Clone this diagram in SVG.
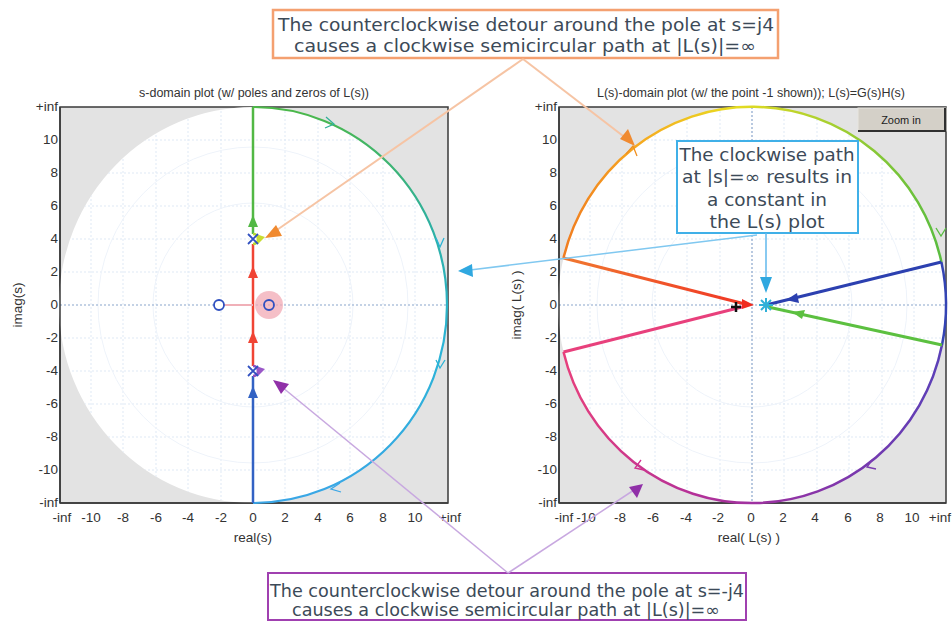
<svg xmlns="http://www.w3.org/2000/svg" width="952" height="622" viewBox="0 0 952 622">
<style>
.tk{font-family:"Liberation Sans",Arial,sans-serif;font-size:13.5px;fill:#333}
.ttl{font-family:"Liberation Sans",Arial,sans-serif;font-size:12.5px;fill:#333}
.co{font-family:"DejaVu Sans","Noto Sans",sans-serif;font-size:17px;fill:#3c4a58}
.frame{fill:#e3e3e3;stroke:#3a3a3a;stroke-width:1.5}
.grid{stroke:#dfe9f5;stroke-width:1;stroke-dasharray:2 2;fill:none}
.axis{stroke:#8aa6cc;stroke-width:1.2;stroke-dasharray:2 2;fill:none}
.chev{fill:none;stroke-width:1.3}
</style>
<defs>
<linearGradient id="gL" gradientUnits="userSpaceOnUse" x1="0" y1="107" x2="0" y2="503">
<stop offset="0" stop-color="#4cb848"/><stop offset="0.3" stop-color="#2eb0a2"/><stop offset="0.6" stop-color="#2ab4d6"/><stop offset="1" stop-color="#3aa6e6"/>
</linearGradient>
<linearGradient id="gU" gradientUnits="userSpaceOnUse" x1="560" y1="0" x2="944" y2="0">
<stop offset="0" stop-color="#f07a20"/><stop offset="0.2" stop-color="#f6a820"/><stop offset="0.45" stop-color="#e8dc20"/><stop offset="0.7" stop-color="#a8d030"/><stop offset="1" stop-color="#58bc40"/>
</linearGradient>
<linearGradient id="gD" gradientUnits="userSpaceOnUse" x1="944" y1="0" x2="560" y2="0">
<stop offset="0" stop-color="#5a40b8"/><stop offset="0.35" stop-color="#8a34a8"/><stop offset="0.65" stop-color="#b43098"/><stop offset="1" stop-color="#e8407c"/>
</linearGradient>
<linearGradient id="gR" gradientUnits="userSpaceOnUse" x1="563" y1="0" x2="750" y2="0">
<stop offset="0" stop-color="#f07830"/><stop offset="1" stop-color="#f03424"/>
</linearGradient>
<clipPath id="cL"><ellipse cx="253" cy="305" rx="194" ry="198"/></clipPath>
<clipPath id="cR"><ellipse cx="752" cy="305" rx="194" ry="198"/></clipPath>
</defs>

<!-- Left plot -->
<g id="left-plot">
<text class="ttl" x="254" y="97" text-anchor="middle">s-domain plot (w/ poles and zeros of L(s))</text>
<rect class="frame" x="60" y="107" width="388" height="396"/>
<ellipse cx="253" cy="305" rx="194" ry="198" fill="#fff"/>
<g clip-path="url(#cL)">
<path class="grid" d="M91,107V503M123,107V503M156,107V503M188,107V503M221,107V503M285,107V503M318,107V503M350,107V503M383,107V503M415,107V503M60,140H448M60,173H448M60,206H448M60,239H448M60,272H448M60,338H448M60,371H448M60,404H448M60,437H448M60,470H448"/>
<ellipse cx="253" cy="305" rx="155" ry="158" fill="none" stroke="#eef3fa" stroke-width="1"/>
<ellipse cx="253" cy="305" rx="100" ry="102" fill="none" stroke="#eef3fa" stroke-width="1"/>
</g>
<path class="axis" d="M60,305H448"/>
<path d="M60,503H448M60,107V503" fill="none" stroke="#3a3a3a" stroke-width="1.5"/>
<g class="tk" text-anchor="end">
<text x="58" y="111">+inf</text><text x="58" y="144">10</text><text x="58" y="177">8</text><text x="58" y="210">6</text><text x="58" y="243">4</text><text x="58" y="276">2</text><text x="58" y="309">0</text><text x="58" y="342">-2</text><text x="58" y="375">-4</text><text x="58" y="408">-6</text><text x="58" y="441">-8</text><text x="58" y="474">-10</text><text x="58" y="507">-inf</text>
</g>
<g class="tk" text-anchor="middle">
<text x="62" y="522">-inf</text><text x="91" y="522">-10</text><text x="123" y="522">-8</text><text x="156" y="522">-6</text><text x="188" y="522">-4</text><text x="221" y="522">-2</text><text x="253" y="522">0</text><text x="285" y="522">2</text><text x="318" y="522">4</text><text x="350" y="522">6</text><text x="383" y="522">8</text><text x="415" y="522">10</text><text x="450" y="522">+inf</text>
</g>
<text class="tk" x="253" y="542" text-anchor="middle">real(s)</text>
<text class="tk" transform="translate(22,305) rotate(-90)" text-anchor="middle">imag(s)</text>
</g>

<g id="s-contour">
<path d="M253,107 A194,198 0 0 1 253,503" fill="none" stroke="url(#gL)" stroke-width="2.2"/>
<path d="M253,107V234" stroke="#52b844" stroke-width="2.5"/>
<path d="M253,244V366" stroke="#f04434" stroke-width="2.5"/>
<path d="M253,376V503" stroke="#3262c4" stroke-width="2.5"/>
<path d="M253,244 A5,5 0 0 0 253,234" fill="none" stroke="#b8d830" stroke-width="2.5"/>
<path d="M253,376 A5,5 0 0 0 253,366" fill="none" stroke="#9050c0" stroke-width="2.5"/>
<polygon points="256,234 265,237 258,244" fill="#c8dc30"/>
<polygon points="256,366 265,369 258,376" fill="#9a58c8"/>
<polygon points="253,215 248,227 258,227" fill="#52b844"/>
<polygon points="253,266 248,278 258,278" fill="#f04434"/>
<polygon points="253,331 248,343 258,343" fill="#f04434"/>
<polygon points="253,386 248,398 258,398" fill="#3262c4"/>
<path class="chev" d="M326,117 L334,124 L325,128" stroke="#30b098"/>
<path class="chev" d="M436,238 L440,247 L444,238" stroke="#2ab4d6"/>
<path class="chev" d="M436,360 L440,368 L445,360" stroke="#2ab4d6"/>
<path class="chev" d="M340,483 L331,489 L341,492" stroke="#3aa6e6"/>
</g>

<g id="poles-zeros">
<path d="M224,305H253" stroke="#f0b0b8" stroke-width="2"/>
<circle cx="269" cy="305" r="14" fill="#f2aab4" opacity="0.75"/>
<circle cx="219" cy="305" r="5" fill="#fff" stroke="#3050c0" stroke-width="1.8"/>
<circle cx="269" cy="305" r="5" fill="none" stroke="#3050c0" stroke-width="1.8"/>
<path d="M248,234L258,244M258,234L248,244M248,366L258,376M258,366L248,376" stroke="#3050c0" stroke-width="1.8"/>
</g>

<!-- Right plot -->
<g id="right-plot">
<text class="ttl" x="751" y="97" text-anchor="middle">L(s)-domain plot (w/ the point -1 shown)); L(s)=G(s)H(s)</text>
<rect class="frame" x="559" y="107" width="387" height="396"/>
<ellipse cx="752" cy="305" rx="194" ry="198" fill="#fff"/>
<g clip-path="url(#cR)">
<path class="grid" d="M590,107V503M622,107V503M655,107V503M687,107V503M720,107V503M784,107V503M817,107V503M849,107V503M882,107V503M914,107V503M559,140H946M559,173H946M559,206H946M559,239H946M559,272H946M559,338H946M559,371H946M559,404H946M559,437H946M559,470H946"/>
<ellipse cx="752" cy="305" rx="155" ry="158" fill="none" stroke="#eef3fa" stroke-width="1"/>
<ellipse cx="752" cy="305" rx="100" ry="102" fill="none" stroke="#eef3fa" stroke-width="1"/>
</g>
<path class="axis" d="M559,305H946M752,107V503" stroke="#a8c6e6"/>
<path d="M559,503H946M559,107V503" fill="none" stroke="#3a3a3a" stroke-width="1.5"/>
<g class="tk" text-anchor="end">
<text x="557" y="111">+inf</text><text x="557" y="144">10</text><text x="557" y="177">8</text><text x="557" y="210">6</text><text x="557" y="243">4</text><text x="557" y="276">2</text><text x="557" y="309">0</text><text x="557" y="342">-2</text><text x="557" y="375">-4</text><text x="557" y="408">-6</text><text x="557" y="441">-8</text><text x="557" y="474">-10</text><text x="557" y="507">-inf</text>
</g>
<g class="tk" text-anchor="middle">
<text x="564" y="522">-inf</text><text x="586" y="522">-10</text><text x="620" y="522">-8</text><text x="653" y="522">-6</text><text x="686" y="522">-4</text><text x="718" y="522">-2</text><text x="751" y="522">0</text><text x="783" y="522">2</text><text x="815" y="522">4</text><text x="848" y="522">6</text><text x="880" y="522">8</text><text x="912" y="522">10</text>
</g>
<text class="tk" x="951" y="522" text-anchor="end">+inf</text>
<text class="tk" x="749" y="542" text-anchor="middle">real( L(s) )</text>
<text class="tk" transform="translate(521,305) rotate(-90)" text-anchor="middle">imag( L(s) )</text>
</g>

<g id="zoom-button">
<rect x="858" y="108" width="88" height="23" fill="#d4d0c8" stroke="#e8e6e0" stroke-width="1"/>
<path d="M945,108V131H858" fill="none" stroke="#303030" stroke-width="2"/>
<text x="901" y="124" text-anchor="middle" font-family="Liberation Sans, Arial, sans-serif" font-size="11" fill="#222">Zoom in</text>
</g>

<g id="L-contour">
<path d="M563.5,258 A194,198 0 0 1 941.4,262" fill="none" stroke="url(#gU)" stroke-width="2.5"/>
<path d="M941.4,262 A194,198 0 0 1 942,345" fill="none" stroke="#3444b4" stroke-width="2.5"/>
<path d="M942,345 A194,198 0 0 1 563.5,352" fill="none" stroke="url(#gD)" stroke-width="2.5"/>
<path d="M563.5,258 L745,304" stroke="url(#gR)" stroke-width="3"/>
<polygon points="754,305 742,299 742,309" fill="#f02c20"/>
<path d="M563.5,352 L742,307" stroke="#e8407c" stroke-width="3"/>
<path d="M941.4,262 L766,305" stroke="#2c40b0" stroke-width="3"/>
<polygon points="786,300 797,293 799,303" fill="#2c40b0"/>
<path d="M942,345 L768,307" stroke="#5cc040" stroke-width="3"/>
<polygon points="792,312 805,310 802,319" fill="#5cc040"/>
<path class="chev" d="M626,154 L633,146 L637,156" stroke="#f09020"/>
<path class="chev" d="M936,228 L941,236 L946,228" stroke="#58bc40"/>
<path class="chev" d="M641,460 L635,468 L644,470" stroke="#d03090"/>
<path class="chev" d="M872,460 L867,467 L876,469" stroke="#7a3cb0"/>
<path d="M731,307H741M736,302V312" stroke="#111" stroke-width="2.5"/>
<path d="M759,305H773M766,298V312M761,300L771,310M771,300L761,310" stroke="#30b0d8" stroke-width="2"/>
</g>

<!-- Callouts -->
<g id="callout-top">
<rect x="273" y="10" width="505" height="48" fill="#fff" stroke="#f4a070" stroke-width="2.5"/>
<text class="co" x="526" y="31" text-anchor="middle" textLength="496" lengthAdjust="spacingAndGlyphs">The counterclockwise detour around the pole at s=j4</text>
<text class="co" x="525" y="52" text-anchor="middle" textLength="462" lengthAdjust="spacingAndGlyphs">causes a clockwise semicircular path at |L(s)|=∞</text>
</g>
<g id="callout-right">
<rect x="677" y="141" width="181" height="92" fill="#fff" stroke="#40b0e8" stroke-width="2"/>
<text class="co" x="767" y="161" text-anchor="middle" textLength="175" lengthAdjust="spacingAndGlyphs">The clockwise path</text>
<text class="co" x="767" y="183" text-anchor="middle" textLength="170" lengthAdjust="spacingAndGlyphs">at |s|=∞ results in</text>
<text class="co" x="767" y="206" text-anchor="middle" textLength="120" lengthAdjust="spacingAndGlyphs">a constant in</text>
<text class="co" x="767" y="228" text-anchor="middle" textLength="115" lengthAdjust="spacingAndGlyphs">the L(s) plot</text>
</g>
<g id="callout-bottom">
<rect x="268" y="573" width="478" height="47" fill="#fff" stroke="#a040b0" stroke-width="2"/>
<text class="co" x="507" y="597" text-anchor="middle" textLength="474" lengthAdjust="spacingAndGlyphs">The counterclockwise detour around the pole at s=-j4</text>
<text class="co" x="506" y="616" text-anchor="middle" textLength="428" lengthAdjust="spacingAndGlyphs">causes a clockwise semicircular path at |L(s)|=∞</text>
</g>

<g id="connectors">
<path d="M523,59 L274,232" stroke="#f6c4a4" stroke-width="2" fill="none"/>
<polygon points="265,238 276,225 282,236" fill="#f08a30"/>
<path d="M523,59 L627,139" stroke="#f6c4a4" stroke-width="2" fill="none"/>
<polygon points="635,146 620,139 628,129" fill="#f08a30"/>
<path d="M757,235 L470,270" stroke="#80c8f0" stroke-width="1.5" fill="none"/>
<polygon points="458,271 472,264 473,277" fill="#30a8e0"/>
<path d="M766,233 V280" stroke="#60b8ec" stroke-width="1.5" fill="none"/>
<polygon points="766,293 760,277 772,277" fill="#30a8e0"/>
<path d="M508,573 L282,387" stroke="#c8a8e0" stroke-width="1.5" fill="none"/>
<polygon points="273,380 289,384 281,394" fill="#9030a8"/>
<path d="M508,573 L634,490" stroke="#c8a8e0" stroke-width="1.5" fill="none"/>
<polygon points="643,484 637,498 629,487" fill="#9030a8"/>
</g>
</svg>
